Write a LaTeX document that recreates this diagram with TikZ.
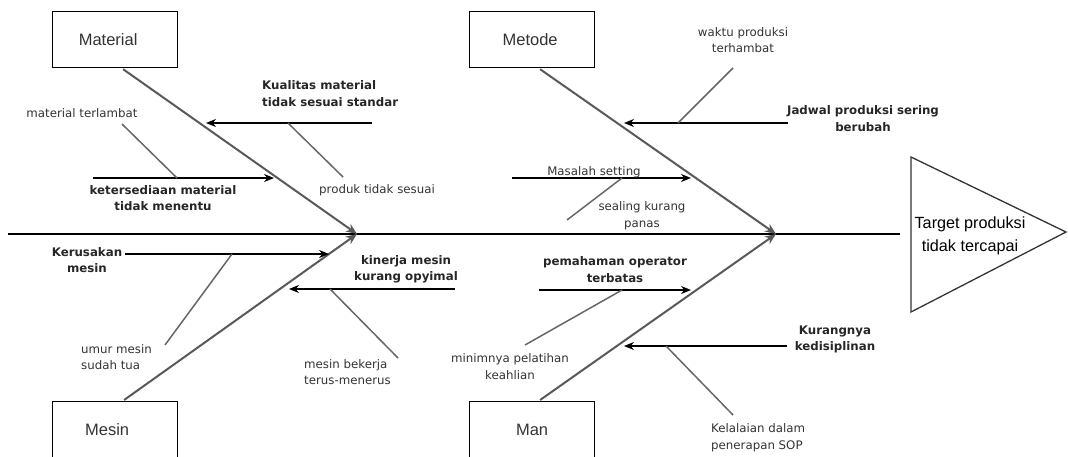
\documentclass[tikz,border=0pt]{standalone}
\usepackage{fontspec}
\setmainfont{Liberation Sans}
\newfontfamily\lblfont{DejaVu Sans}
\usetikzlibrary{arrows.meta,calc}
\begin{document}
\begin{tikzpicture}[x=1pt,y=-1pt,
  box/.style={draw=black,line width=1.2pt,minimum width=125pt,minimum height=56pt,anchor=north west,inner sep=0pt},
  boxtext/.style={font=\fontsize{16.5}{19}\selectfont,text=black!80,inner sep=0pt},
  bone/.style={draw=black!65,line width=2pt,-{Stealth[length=11pt,width=9pt]}},
  rib/.style={draw=black,line width=1.3pt,-{Stealth[length=10pt,width=8pt]}},
  twig/.style={draw=black!60,line width=1.5pt},
  small/.style={font=\lblfont\fontsize{11.8}{16.5}\selectfont,text=black!80,inner sep=0pt},
  bold/.style={font=\lblfont\bfseries\fontsize{11.8}{16.5}\selectfont,text=black!85,inner sep=0pt},
]
\useasboundingbox (0,0) rectangle (1068,456);
% spine
\coordinate (sL) at (8,234);
\coordinate (sR) at (900,234);
\coordinate (h1) at (357,234);
\coordinate (h2) at (776,234);
\draw[black,line width=1.3pt] (sL) -- (sR);
% head
\draw[black!80,line width=1.3pt] (911,157) -- (1066,232) -- (911,312) -- cycle;
\node[font=\fontsize{16.2}{23}\selectfont,align=center,inner sep=0pt] (head) at (970,236) {Target produksi\\tidak tercapai};
% boxes
\node[box] (material) at (52,11) {};
\node[box] (metode) at (469,11) {};
\node[box] (mesin) at (52,401) {};
\node[box] (man) at (469,401) {};
\node[boxtext] (tmaterial) at ($(material.center)+(-7,0)$) {Material};
\node[boxtext] (tmetode) at ($(metode.center)+(-2,0)$) {Metode};
\node[boxtext] (tmesin) at ($(mesin.center)+(-8,0)$) {Mesin};
\node[boxtext] (tman) at ($(man.center)+(0,0)$) {Man};
% bones
\draw[bone] ($(material.south)+(8,1)$) -- (h1);
\draw[bone] ($(mesin.north)+(9,-1)$) -- (h1);
\draw[bone] ($(metode.south)+(8,1)$) -- (h2);
\draw[bone] ($(man.north)+(8,-1)$) -- (h2);
% ---- Material
\coordinate (a1s) at (372,123); \coordinate (a1e) at (206,123);
\draw[rib] (a1s) -- (a1e);
\coordinate (a1t) at (343,177);
\draw[twig] (288,123) -- (a1t);
\node[bold,align=left,anchor=west] (l1) at (262,93.5) {Kualitas material\\tidak sesuai standar};
\node[small] (l1b) at (377,190) {produk tidak sesuai};
\coordinate (a2s) at (93,178); \coordinate (a2e) at (274,178);
\draw[rib] (a2s) -- (a2e);
\draw[twig] (177,178) -- (122,124);
\node[bold,align=center] (l2) at (163,198) {ketersediaan material\\tidak menentu};
\node[small] (l2b) at (82,113) {material terlambat};
% ---- Mesin
\coordinate (a3s) at (125,254); \coordinate (a3e) at (329,254);
\draw[rib] (a3s) -- (a3e);
\draw[twig] (232,254) -- (165,345);
\node[bold,align=center] (l3) at (87,260) {Kerusakan\\mesin};
\node[small,align=left,anchor=west] (l3b) at (81,357) {umur mesin\\sudah tua};
\coordinate (a4s) at (455,289); \coordinate (a4e) at (289,289);
\draw[rib] (a4s) -- (a4e);
\draw[twig] (330,289) -- (398,358);
\node[bold,align=center] (l4) at (406,269.5) {kinerja mesin\\kurang opyimal};
\node[small,align=left,anchor=west] (l4b) at (304,372) {mesin bekerja\\terus-menerus};
% ---- Metode
\coordinate (a5s) at (788,123); \coordinate (a5e) at (624,123);
\draw[rib] (a5s) -- (a5e);
\draw[twig] (678,123) -- (733,68);
\node[bold,align=center] (l5) at (863,118.5) {Jadwal produksi sering\\berubah};
\node[small,align=center] (l5b) at (743,40) {waktu produksi\\terhambat};
\coordinate (a6s) at (512,178); \coordinate (a6e) at (691,178);
\draw[rib] (a6s) -- (a6e);
\draw[twig] (622,178) -- (567,220);
\node[small] (l6) at (594,172) {Masalah setting};
\node[small,align=center] (l6b) at (642,215.5) {sealing kurang\\panas};
% ---- Man
\coordinate (a7s) at (539,290); \coordinate (a7e) at (691,290);
\draw[rib] (a7s) -- (a7e);
\draw[twig] (622,290) -- (525,345);
\node[bold,align=center] (l7) at (615,269.5) {pemahaman operator\\terbatas};
\node[small,align=center] (l7b) at (510,366.5) {minimnya pelatihan\\keahlian};
\coordinate (a8s) at (787,346); \coordinate (a8e) at (624,346);
\draw[rib] (a8s) -- (a8e);
\draw[twig] (666,346) -- (733,415);
\node[bold,align=center] (l8) at (835,339.5) {Kurangnya\\kedisiplinan};
\node[small,align=left,anchor=west] (l8b) at (711,437.5) {Kelalaian dalam\\penerapan SOP};
\end{tikzpicture}
\end{document}
